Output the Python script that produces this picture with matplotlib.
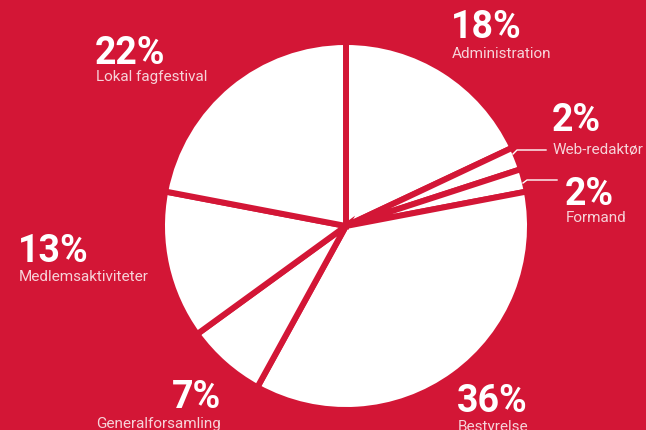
import numpy as np
from matplotlib import pyplot as plt

# slices clockwise from 12 o'clock
labels = ["Administration", "Web-redaktør", "Formand", "Bestyrelse",
          "Generalforsamling", "Medlemsaktiviteter", "Lokal fagfestival"]
shares = [18, 2, 2, 36, 7, 13, 22]

red = "#D31636"
W, H = 646, 431

fig = plt.figure(figsize=(W / 100, H / 100), dpi=100, facecolor=red)
ax = fig.add_axes([0, 0, 1, 1])
ax.set_facecolor(red)

ax.pie(shares, startangle=90, counterclock=False, center=(346, H - 227), radius=184,
       colors=["white"] * len(shares),
       wedgeprops=dict(edgecolor=red, linewidth=4.3))

ax.set_xlim(0, W)
ax.set_ylim(0, H)
ax.set_aspect("equal")
ax.axis("off")

# label layout in pixel coords (x, baseline of pct, baseline of name, align)
pos = {
    "Administration": (451, 38, 58, "left"),
    "Web-redaktør": (552, 131, 154, "left"),
    "Formand": (565, 205, 222, "left"),
    "Bestyrelse": (457, 412, 431, "left"),
    "Generalforsamling": (221, 408, 428, "right"),
    "Medlemsaktiviteter": (18, 262, 281, "left"),
    "Lokal fagfestival": (95, 64, 81, "left"),
}

for name, val in zip(labels, shares):
    x, yp, yn, ha = pos[name]
    ax.text(x, H - yp, f"{val}%", color="white", fontsize=27, fontweight="bold",
            family="Roboto", ha=ha, va="baseline")
    ax.text(x + (1 if ha == "left" else 0), H - yn, name, color="#F6D3D9", fontsize=11,
            family="Roboto", ha=ha, va="baseline")

# leader lines for the two small slices
ax.plot([513, 517, 546], [H - 155, H - 151, H - 151], color="white", lw=1)
ax.plot([523, 527, 557], [H - 184, H - 181, H - 181], color="white", lw=1)

fig.savefig("out.png", dpi=100, facecolor=red)
